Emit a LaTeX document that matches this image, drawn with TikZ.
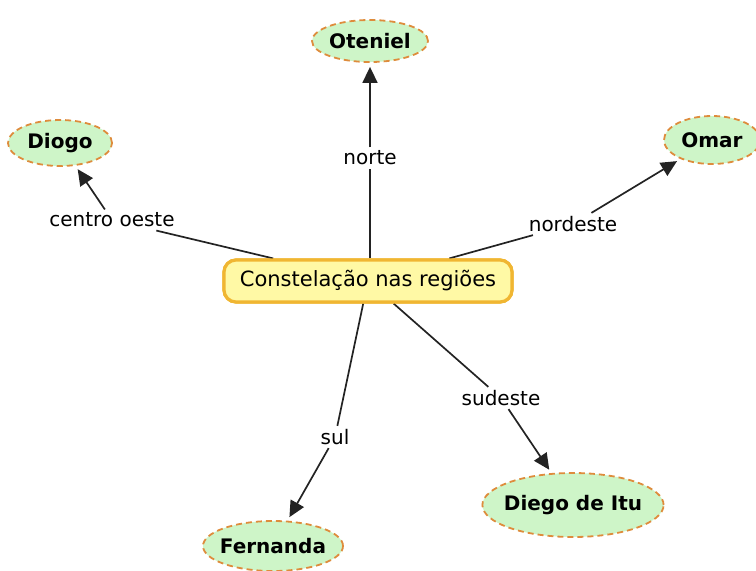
\documentclass[tikz,border=0pt]{standalone}
\usepackage{fontspec}
\setmainfont{DejaVu Sans}
\usetikzlibrary{shapes.geometric,arrows.meta}
\definecolor{leafgreen}{RGB}{206,245,200}
\definecolor{leafrim}{RGB}{222,140,60}
\definecolor{hubyellow}{RGB}{255,249,165}
\definecolor{hubrim}{RGB}{240,182,50}
\definecolor{linkgray}{RGB}{35,35,35}
\tikzset{
  hub/.style={draw=hubrim,fill=hubyellow,line width=1.6pt,rounded corners=6pt,
    minimum width=144pt,minimum height=21pt,font=\fontsize{10.5}{12}\selectfont},
  leaf/.style={ellipse,draw=leafrim,fill=leafgreen,dash pattern=on 3pt off 2pt,
    line width=0.9pt,inner xsep=-2.5pt,inner ysep=1pt,font=\bfseries\fontsize{10}{12}\selectfont},
  linkname/.style={fill=white,inner sep=1.5pt,font=\fontsize{10}{12}\selectfont},
  link/.style={draw=linkgray,line width=0.85pt},
  pointer/.style={link,-{Triangle[length=8pt,width=7.5pt]},shorten >=2pt}
}
\begin{document}
\begin{tikzpicture}[x=0.5pt,y=-0.5pt]
\useasboundingbox (0,0) rectangle (756,570);
% coordinates
\coordinate (C)  at (368,281);%
\coordinate (N)  at (370, 41);%
\coordinate (W)  at ( 60,143);%
\coordinate (E)  at (712,140);%
\coordinate (SE) at (573,505);%
\coordinate (S)  at (273,546);%
% nodes
\node[hub] (hub) at (C) {Constelação nas regiões};
\node[leaf,minimum width=58pt,minimum height=21pt] (oteniel) at (N)  {Oteniel};
\node[leaf,minimum width=52pt,minimum height=23pt] (diogo)   at (W)  {Diogo};
\node[leaf,minimum width=48pt,minimum height=24pt] (omar)    at (E)  {Omar};
\node[leaf,minimum width=88pt,minimum height=32pt] (itu)     at (SE) {Diego de Itu};
\node[leaf,minimum width=70pt,minimum height=25pt] (fernanda) at (S) {Fernanda};
% link names
\node[linkname] (norte)    at (370,158) {norte};
\node[linkname] (cwest)    at (112,220) {centro oeste};
\node[linkname] (neast)    at (573,224) {nordeste};
\node[linkname] (seast)    at (501,398) {sudeste};
\node[linkname] (south)    at (335,437) {sul};
% links
\draw[link] (hub.north -| oteniel) -- (norte);
\draw[pointer] (norte) -- (oteniel);
\draw[link] (hub) -- (cwest);
\draw[pointer] (cwest) -- (diogo);
\draw[link] (hub) -- (neast);
\draw[pointer] (neast) -- (omar);
\draw[link] (hub) -- (seast);
\draw[pointer] (seast) -- (itu);
\draw[link] (hub) -- (south);
\draw[pointer] (south) -- (fernanda);
% redraw hub on top
\node[hub] at (C) {Constelação nas regiões};
\end{tikzpicture}
\end{document}
